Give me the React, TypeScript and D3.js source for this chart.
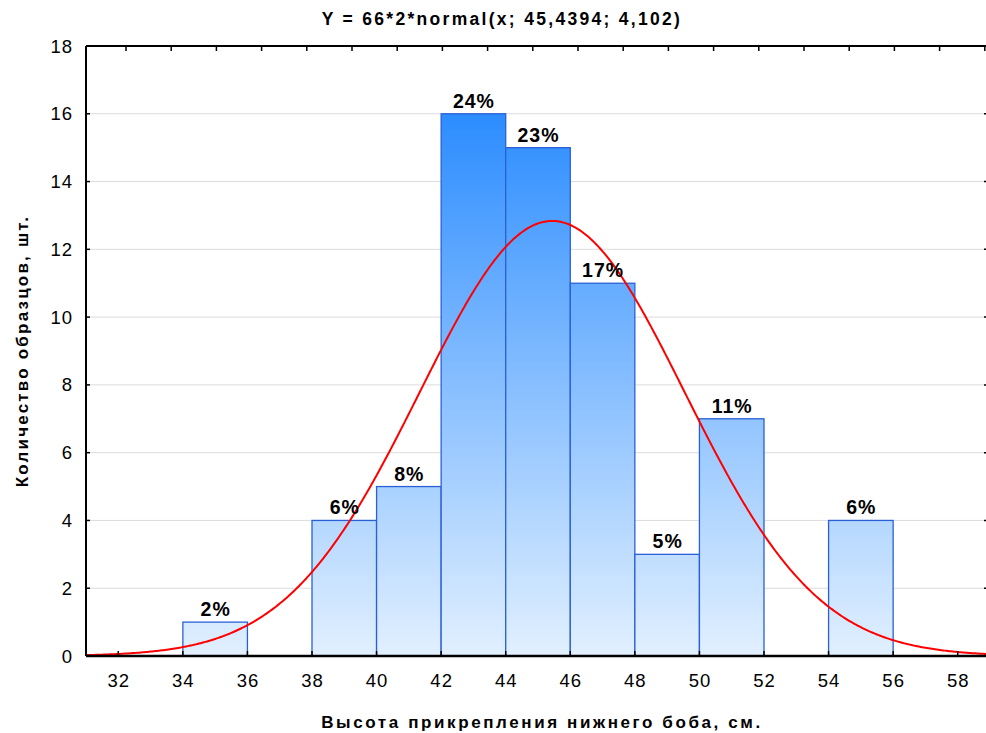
import React from "react";
import * as d3 from "d3";

const binStarts = [34, 38, 40, 42, 44, 46, 48, 50, 54];
const binCounts = [1, 4, 5, 16, 15, 11, 3, 7, 4];
const binLabels = ["2%", "6%", "8%", "24%", "23%", "17%", "5%", "11%", "6%"];
const binWidth = 2;
const xTicks = [32, 34, 36, 38, 40, 42, 44, 46, 48, 50, 52, 54, 56, 58];
const yTicks = [0, 2, 4, 6, 8, 10, 12, 14, 16, 18];
const fitN = 66;
const fitMean = 45.4394;
const fitSd = 4.102;
const titleText = "Y = 66*2*normal(x; 45,4394; 4,102)";
const xTitle = "Высота прикрепления нижнего боба, см.";
const yTitle = "Количество образцов, шт.";

const W = 986;
const H = 733;
const left = 86;
const top = 46;
const bottom = 656;
const right = 990;

export default function App() {
  const x = d3.scaleLinear().domain([31, 59]).range([left, right]);
  const y = d3.scaleLinear().domain([0, 18]).range([bottom, top]);
  const pdf = (v: number) =>
    (fitN * binWidth * Math.exp(-0.5 * ((v - fitMean) / fitSd) ** 2)) /
    (fitSd * Math.sqrt(2 * Math.PI));
  const xs = d3.range(31, 59.001, 0.05);
  const line = d3
    .line<number>()
    .x((v) => x(v))
    .y((v) => y(pdf(v)))
    .curve(d3.curveLinear);
  const topTicks = d3.range(126, right, 45.2);
  const font = "Arial, 'Liberation Sans', sans-serif";
  return (
    <svg
      width={W}
      height={H}
      style={{ position: "absolute", left: 0, top: 0, background: "#fff" }}
      fontFamily={font}
    >
      <defs>
        <linearGradient id="bg" gradientUnits="userSpaceOnUse" x1={0} y1={top} x2={0} y2={bottom}>
          <stop offset="0%" stopColor="#1580FF" />
          <stop offset="100%" stopColor="#E2F0FF" />
        </linearGradient>
        <clipPath id="clip">
          <rect x={left} y={top - 2} width={right - left} height={bottom - top + 4} />
        </clipPath>
      </defs>
      <text x={502} y={25} textAnchor="middle" fontSize={17.5} fontWeight="bold" fill="#000" letterSpacing={2.3}>
        {titleText}
      </text>
      {yTicks.map((t) => (
        <line key={"g" + t} x1={left} x2={right} y1={y(t)} y2={y(t)} stroke="#dcdcdc" strokeWidth={1} />
      ))}
      {binStarts.map((s, i) => (
        <rect
          key={"b" + i}
          x={x(s)}
          y={y(binCounts[i])}
          width={x(s + binWidth) - x(s)}
          height={y(0) - y(binCounts[i])}
          fill="url(#bg)"
          stroke="#2A60D6"
          strokeWidth={1.3}
        />
      ))}
      <path d={line(xs) || ""} fill="none" stroke="#FF0000" strokeWidth={2} clipPath="url(#clip)" />
      {binStarts.map((s, i) => (
        <text
          key={"l" + i}
          x={x(s + binWidth / 2) + 0.5}
          y={y(binCounts[i]) - 6}
          textAnchor="middle"
          fontSize={19.5}
          fontWeight="bold"
          fill="#000"
          letterSpacing={1}
        >
          {binLabels[i]}
        </text>
      ))}
      {/* frame */}
      <line x1={left} x2={right} y1={top} y2={top} stroke="#000" strokeWidth={2} />
      <line x1={left} x2={left} y1={top} y2={bottom} stroke="#000" strokeWidth={2} />
      <line x1={right - 1} x2={right - 1} y1={top} y2={bottom} stroke="#000" strokeWidth={2} />
      <line x1={left} x2={right} y1={bottom} y2={bottom} stroke="#000" strokeWidth={2.5} />
      {topTicks.map((t, i) => (
        <line key={"tt" + i} x1={t} x2={t} y1={top} y2={top + 5} stroke="#000" strokeWidth={1.5} />
      ))}
      {xTicks.map((t) => (
        <g key={"x" + t}>
          <line x1={x(t)} x2={x(t)} y1={bottom} y2={bottom - 5} stroke="#000" strokeWidth={1.5} />
          <text x={x(t) + 0.5} y={687} textAnchor="middle" fontSize={18.5} fill="#000" letterSpacing={1}>
            {t}
          </text>
        </g>
      ))}
      {yTicks.map((t) => (
        <g key={"y" + t}>
          <line x1={left} x2={left + 4} y1={y(t)} y2={y(t)} stroke="#000" strokeWidth={1.5} />
          <line x1={right - 6} x2={right} y1={y(t)} y2={y(t)} stroke="#000" strokeWidth={1.5} />
          <text x={73} y={y(t) + 6.5} textAnchor="end" fontSize={18.5} fill="#000" letterSpacing={1}>
            {t}
          </text>
        </g>
      ))}
      <text x={542} y={728} textAnchor="middle" fontSize={17} fontWeight="bold" fill="#000" letterSpacing={2.6}>
        {xTitle}
      </text>
      <text
        transform={`translate(28, ${351}) rotate(-90)`}
        textAnchor="middle"
        fontSize={17}
        fontWeight="bold"
        fill="#000"
        letterSpacing={2.2}
      >
        {yTitle}
      </text>
    </svg>
  );
}
